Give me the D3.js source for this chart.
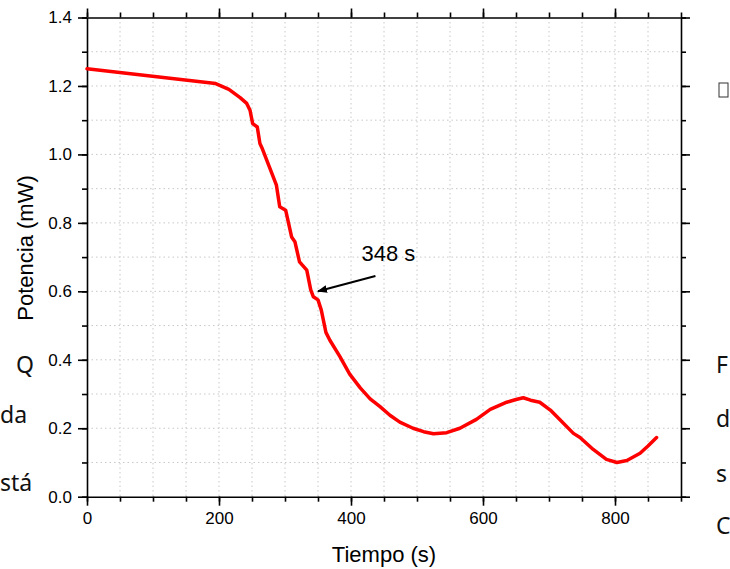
<!DOCTYPE html>
<html lang="es">
<head>
<meta charset="UTF-8">
<title>Potencia vs Tiempo</title>
<script src="https://d3js.org/d3.v7.min.js"></script>
<style>
  body, html { margin: 0; padding: 0; background: #fff; overflow: hidden; }
  svg { display: block; }
  .axis text { font-family: Arial, "Liberation Sans", sans-serif; font-size: 17px; fill: #000; }
  .axis path, .axis line { stroke: #000; stroke-width: 1.6px; }
  .grid line { stroke: #c8c8c8; stroke-width: 1px; stroke-dasharray: 1.5,3; }
  .title { font-family: Arial, "Liberation Sans", sans-serif; font-size: 22px; fill: #000; }
  .doc { font-family: "Noto Sans", "Open Sans", sans-serif; font-size: 23px; fill: #111; }
</style>
</head>
<body>
<svg id="chart" width="730" height="569"></svg>
<script>
// measured curve: time (s) and power (mW)
const tiempo = [0, 195, 215, 232, 242, 247, 251, 258, 262, 266, 276, 287, 292, 301, 310, 315, 322, 333, 339, 343, 350, 355,
  362, 368, 383, 398, 414, 429, 444, 459, 474, 494, 510, 525, 545, 565, 590, 611, 636, 650, 661, 672, 686,
  702, 717, 737, 747, 767, 787, 803, 818, 838, 850, 863];
const potencia = [1.250, 1.207, 1.190, 1.166, 1.149, 1.129, 1.090, 1.080, 1.032, 1.015, 0.965, 0.910, 0.847, 0.837, 0.759, 0.745, 0.686, 0.662, 0.604, 0.584, 0.575, 0.545,
  0.480, 0.457, 0.410, 0.358, 0.318, 0.286, 0.263, 0.238, 0.218, 0.200, 0.190, 0.184, 0.187, 0.200, 0.226, 0.255, 0.276, 0.284, 0.289, 0.282, 0.276,
  0.253, 0.224, 0.185, 0.173, 0.138, 0.109, 0.100, 0.106, 0.127, 0.148, 0.173];

const xMajor = [0, 200, 400, 600, 800];
const yMajor = [0.0, 0.2, 0.4, 0.6, 0.8, 1.0, 1.2, 1.4];
const xMinor = d3.range(0, 901, 50);
const yMinor = d3.range(0, 15).map(i => +(i / 10).toFixed(1));

// annotation: arrow tip, arrow tail, label
const anotacion = { texto: "348 s", punta: [350, 0.60], cola: [437, 0.645], etiqueta: [416, 0.688] };

// stray text of the surrounding document page: text, x, baseline y
const textoIzq = [["Q", 16, 373], ["da", 0, 423], ["stá", 0, 491]];
const textoDer = [["F", 716, 373], ["d", 716, 427], ["s", 716, 482], ["C", 716, 534]];

const svg = d3.select("#chart");
const L = 87, R = 681, T = 17.5, B = 496.7;

const x = d3.scaleLinear().domain([0, 900]).range([L, R]);
const y = d3.scaleLinear().domain([0, 1.4]).range([B, T]);

// grid
const grid = svg.append("g").attr("class", "grid");
grid.selectAll("line.v").data(xMinor.filter(v => v > 0 && v < 900)).join("line")
  .attr("x1", d => x(d)).attr("x2", d => x(d)).attr("y1", T).attr("y2", B);
grid.selectAll("line.h").data(yMinor.filter(v => v > 0 && v < 1.4)).join("line")
  .attr("class", "h")
  .attr("x1", L).attr("x2", R).attr("y1", d => y(d)).attr("y2", d => y(d));

// axes: minor ticks then major ticks with labels
function addAxis(gen, tr, minorVals, majorVals, fmt) {
  svg.append("g").attr("class", "axis").attr("transform", tr)
    .call(gen().tickValues(minorVals).tickSize(5).tickFormat(""))
    .call(g => g.select(".domain").remove());
  return svg.append("g").attr("class", "axis").attr("transform", tr)
    .call(gen().tickValues(majorVals).tickSize(9).tickSizeOuter(0).tickPadding(6)
      .tickFormat(fmt || ""));
}
addAxis(() => d3.axisBottom(x), `translate(0,${B})`, xMinor, xMajor, d3.format("d"));
addAxis(() => d3.axisTop(x), `translate(0,${T})`, xMinor, xMinor.filter(v => v % 200 === 0), null);
addAxis(() => d3.axisLeft(y), `translate(${L},0)`, yMinor, yMajor, d3.format(".1f"));
addAxis(() => d3.axisRight(y), `translate(${R},0)`, yMinor, yMajor, null);

// line
const datos = tiempo.map((t, i) => [t, potencia[i]]);
svg.append("path").datum(datos)
  .attr("fill", "none").attr("stroke", "#ff0000").attr("stroke-width", 3.5)
  .attr("stroke-linejoin", "round").attr("stroke-linecap", "round")
  .attr("d", d3.line().x(d => x(d[0])).y(d => y(d[1])));

// annotation arrow
svg.append("defs").append("marker")
  .attr("id", "flecha").attr("viewBox", "0 0 10 10").attr("refX", 9).attr("refY", 5)
  .attr("markerWidth", 5).attr("markerHeight", 5).attr("orient", "auto")
  .append("path").attr("d", "M0,1 L10,5 L0,9 Z").attr("fill", "#000");
svg.append("line")
  .attr("x1", x(anotacion.cola[0])).attr("y1", y(anotacion.cola[1]))
  .attr("x2", x(anotacion.punta[0])).attr("y2", y(anotacion.punta[1]))
  .attr("stroke", "#000").attr("stroke-width", 2).attr("marker-end", "url(#flecha)");
svg.append("text").attr("class", "title").attr("font-size", "20px")
  .attr("x", x(anotacion.etiqueta[0])).attr("y", y(anotacion.etiqueta[1]))
  .text(anotacion.texto);

// axis titles
svg.append("text").attr("class", "title").attr("text-anchor", "middle")
  .attr("x", 384).attr("y", 562).text("Tiempo (s)");
svg.append("text").attr("class", "title").attr("text-anchor", "middle")
  .attr("transform", "translate(33,248) rotate(-90)").text("Potencia (mW)");

// page fragments
svg.selectAll("text.izq").data(textoIzq).join("text").attr("class", "doc")
  .attr("x", d => d[1]).attr("y", d => d[2]).text(d => d[0]);
svg.selectAll("text.der").data(textoDer).join("text").attr("class", "doc")
  .attr("x", d => d[1]).attr("y", d => d[2]).text(d => d[0]);
svg.append("rect").attr("x", 719).attr("y", 83).attr("width", 9).attr("height", 14)
  .attr("fill", "none").attr("stroke", "#333").attr("stroke-width", 1);
</script>
</body>
</html>
